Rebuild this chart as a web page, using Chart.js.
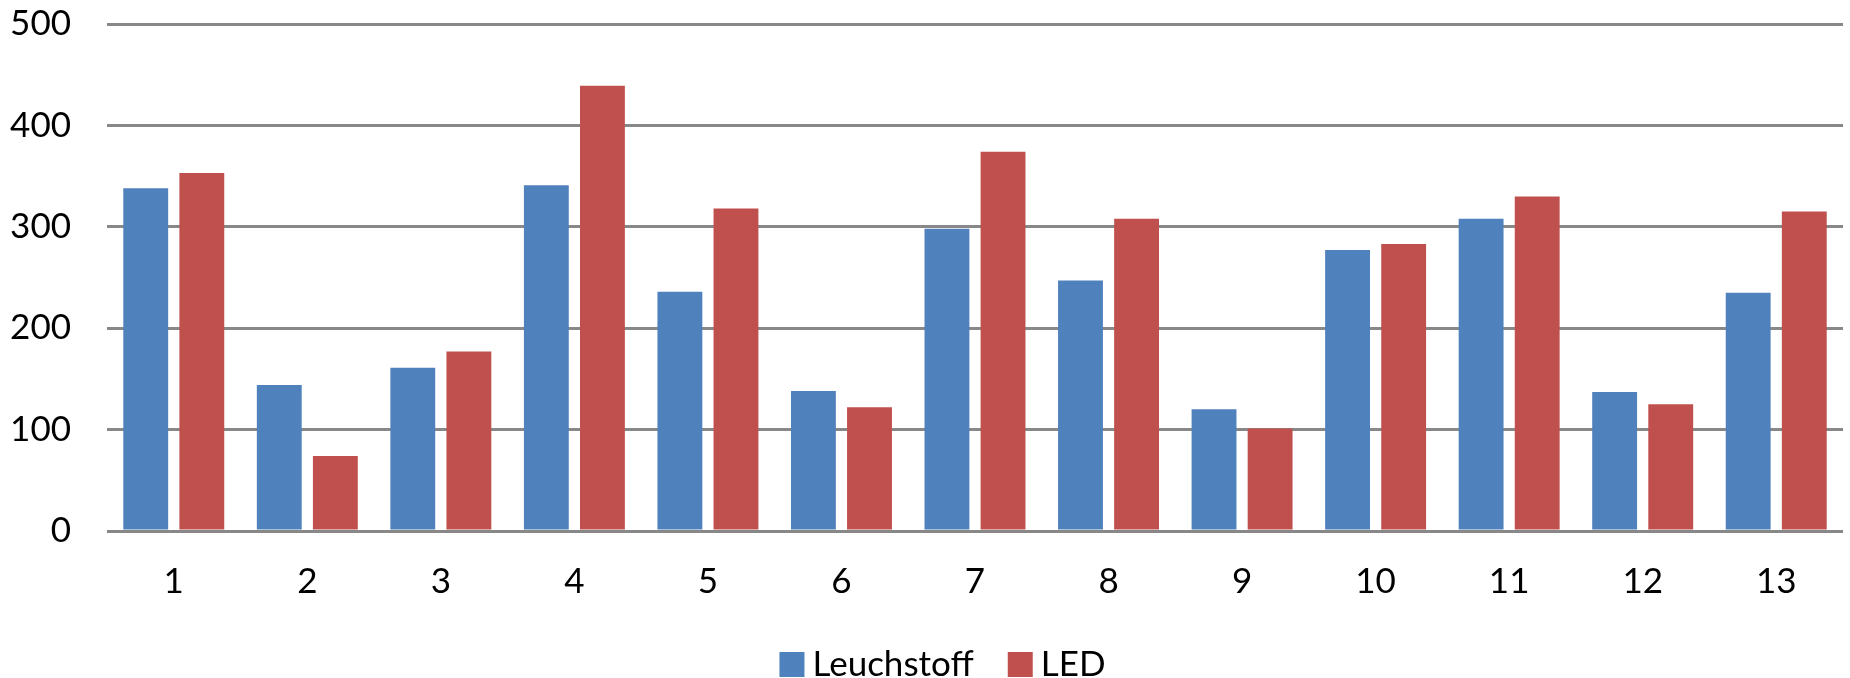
<!DOCTYPE html>
<html>
<head>
<meta charset="utf-8">
<title>Leuchstoff / LED</title>
<script src="https://cdn.jsdelivr.net/npm/chart.js@4/dist/chart.umd.min.js"></script>
<style>
  html, body { margin: 0; padding: 0; background: #ffffff; }
  #wrap { width: 1850px; height: 678px; }
</style>
</head>
<body>
<div id="wrap"><canvas id="chart" width="1850" height="678"></canvas></div>
<script>
// Categories along the x axis
const categories = ['1', '2', '3', '4', '5', '6', '7', '8', '9', '10', '11', '12', '13'];

// Series values
const leuchstoff = [338, 144, 161, 341, 236, 138, 298, 247, 120, 277, 308, 137, 235];
const led = [353, 74, 177, 439, 318, 122, 374, 308, 101, 283, 330, 125, 315];

// Series names
const seriesNames = ['Leuchstoff', 'LED'];

// Value axis ticks
const yTicks = [0, 100, 200, 300, 400, 500];

const FONT = { family: 'Lato, "Open Sans", sans-serif', size: 35 };

// Legend row drawn under the category axis: square swatch, label, next item
const bottomLegend = {
  id: 'bottomLegend',
  afterDraw(chart, args, opts) {
    const ctx = chart.ctx;
    ctx.save();
    ctx.font = `${opts.font.size}px ${opts.font.family}`;
    ctx.textBaseline = 'middle';
    ctx.textAlign = 'left';
    const items = chart.data.datasets.map(ds => ({
      text: ds.label,
      color: ds.backgroundColor,
      width: ctx.measureText(ds.label).width
    }));
    const total = items.reduce((s, it) => s + opts.box + opts.gap + it.width, 0)
      + opts.spacing * (items.length - 1);
    let x = opts.centerX - total / 2;
    const midY = opts.top + opts.box / 2;
    items.forEach(it => {
      ctx.fillStyle = it.color;
      ctx.fillRect(x, opts.top, opts.box, opts.box);
      x += opts.box + opts.gap;
      ctx.fillStyle = opts.color;
      ctx.fillText(it.text, x, midY);
      x += it.width + opts.spacing;
    });
    ctx.restore();
  }
};

new Chart(document.getElementById('chart'), {
  type: 'bar',
  data: {
    labels: categories,
    datasets: [
      {
        label: seriesNames[0],
        data: leuchstoff,
        backgroundColor: '#4F81BD',
        borderWidth: 0,
        categoryPercentage: 0.84,
        barPercentage: 0.80
      },
      {
        label: seriesNames[1],
        data: led,
        backgroundColor: '#C0504D',
        borderWidth: 0,
        categoryPercentage: 0.84,
        barPercentage: 0.80
      }
    ]
  },
  plugins: [bottomLegend],
  options: {
    responsive: false,
    animation: false,
    devicePixelRatio: 1,
    layout: { padding: { left: 0, right: 7, top: 24, bottom: 75 } },
    plugins: {
      tooltip: { enabled: false },
      legend: { display: false },
      bottomLegend: {
        font: FONT,
        color: '#000000',
        box: 25,
        gap: 8,
        spacing: 34,
        centerX: 942.5,
        top: 652
      }
    },
    scales: {
      x: {
        grid: { display: false, drawTicks: false },
        border: { display: false },
        ticks: { color: '#000000', font: FONT, padding: 30, maxRotation: 0 },
        afterFit: (scale) => { scale.height = 72; }
      },
      y: {
        min: yTicks[0],
        max: yTicks[yTicks.length - 1],
        afterBuildTicks: (scale) => { scale.ticks = yTicks.map(v => ({ value: v })); },
        grid: { color: '#888888', lineWidth: 3, drawTicks: false },
        border: { display: false },
        ticks: { color: '#000000', font: FONT, padding: 36 },
        afterFit: (scale) => {
          scale.width = 107;
          // the label gap is horizontal only; keep top/bottom overhang to half a label
          scale.paddingTop = 20;
          scale.paddingBottom = 20;
        }
      }
    }
  }
});
</script>
</body>
</html>
